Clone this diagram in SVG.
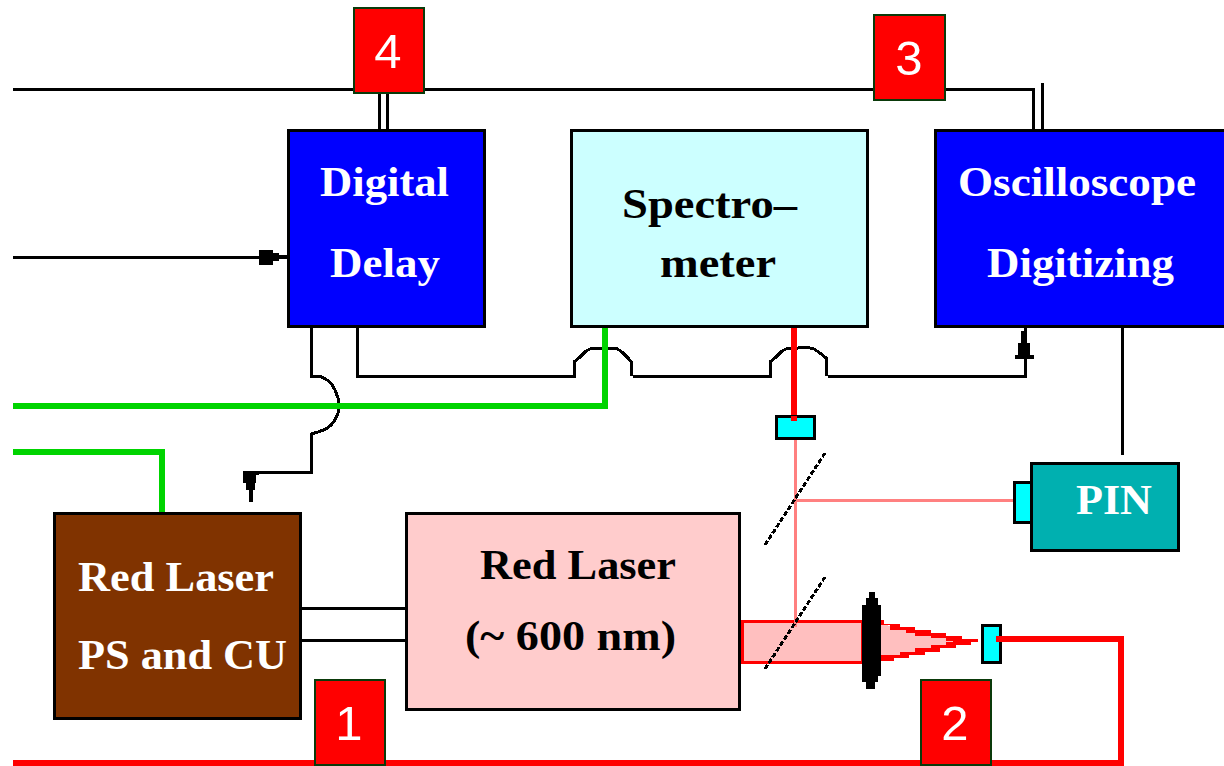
<svg xmlns="http://www.w3.org/2000/svg" width="1224" height="766" viewBox="0 0 1224 766">
<style>
.w{fill:none;stroke:#000;stroke-width:3;shape-rendering:crispEdges}
.red{fill:none;stroke:#f00;stroke-width:5.500;shape-rendering:crispEdges}
.green{fill:none;stroke:#00d400;stroke-width:6;shape-rendering:crispEdges}
.pink{fill:none;stroke:#ff8080;stroke-width:3;shape-rendering:crispEdges}
.box{stroke:#000;stroke-width:3;shape-rendering:crispEdges}
.c{shape-rendering:crispEdges}
.t{font-family:"Liberation Serif",serif;font-weight:bold;font-size:42px;text-anchor:start}
.n{font-family:"Liberation Sans",sans-serif;font-size:49px;fill:#fff;text-anchor:middle}
.tag{fill:#f00;stroke:#0a3a0a;stroke-width:2;shape-rendering:crispEdges}
</style>
<rect width="1224" height="766" fill="#fff"/>
<g id="connectors">
<path class="w" d="M13 89H1033V130M1042 83V130"/>
<path class="w" d="M379 89V130M387 89V130"/>
<path class="w" d="M13 257H288"/>
<path class="c" fill="#000" d="M259 250H273V253H279V255H288V259H279V261H273V265H259Z"/>
<path class="w" d="M311 326V376H320L327 380L331 383L335 390L338 398L339 405L338 413L335 420L331 425L326 429L318 432L311 434V472H250"/>
<path class="c" fill="#000" d="M243 471H259V475H256V483H255V490H253V502H249V490H246V483H243Z"/>
<path class="w" d="M357 326V376H574V362L580 357L586 351L592 348H616L622 352L628 358L631 362V376M633 376H770V362L776 357L782 351L788 348H798L806 347L814 349L820 353L826 358V376M828 376H1025V326"/>
<path class="c" fill="#000" d="M1021 331H1027V343H1030V355H1034V359H1015V355H1018V343H1021Z"/>
<path class="w" d="M1122 326V455"/>
<path class="w" d="M300 608H406M300 640H406"/>
<path class="green" d="M13 406H605V326"/>
<path class="green" d="M13 452H162V514"/>
<path class="red" d="M794 326V420"/>
<path class="pink" d="M795 438V622M795 500H1014"/>
<path class="red" d="M996 639H1121V763H13"/>
<path class="c" d="M742.500 621.500H862V662.500H742.500Z" fill="#ffbfbf" stroke="#f00" stroke-width="3"/>
<path class="pink" d="M795 620V627"/>
<path class="c" d="M881 624L962 641L962 644L881 658Z" fill="#ffbfbf"/>
<path class="c" fill="#f00" d="M881 620H884V624H900V627H915V630H931V633H946V636H962V639H978V642H971V645H956V648H940V652H925V655H909V658H894V661H881V655H900V652H915V648H931V645H946V642H953V641H946V638H931V636H915V633H906V630H890V625H881Z"/>
<path class="c" fill="none" stroke="#000" stroke-width="3" stroke-dasharray="5 2" d="M765 545L825 453M765 669L825 577"/>
</g>
<g id="lens"><path class="c" fill="#000" d="M869 592H875V598H878V605H881V676H878V682H875V689H866V682H862V605H866V598H869Z"/></g>
<g id="det-top"><rect class="c" x="776.500" y="416.500" width="38" height="22" fill="#0ff" stroke="#000" stroke-width="3"/><path class="red" d="M794 416V421"/></g>
<g id="det-right"><rect class="c" x="982.500" y="625.500" width="18" height="37" fill="#0ff" stroke="#000" stroke-width="3"/><path class="red" d="M996 639H1002"/></g>
<g id="digital-delay"><rect class="box" x="288.500" y="130.500" width="196" height="196" fill="#00f"/>
<text class="t" x="320" y="196" fill="#fff" textLength="129" lengthAdjust="spacingAndGlyphs">Digital</text><text class="t" x="330" y="277" fill="#fff" textLength="110" lengthAdjust="spacingAndGlyphs">Delay</text></g>
<g id="spectrometer"><rect class="box" x="571.500" y="130.500" width="296" height="196" fill="#ccffff"/>
<text class="t" x="622" y="218" fill="#000" textLength="175" lengthAdjust="spacingAndGlyphs">Spectro–</text><text class="t" x="660" y="277" fill="#000" textLength="116" lengthAdjust="spacingAndGlyphs">meter</text></g>
<g id="oscilloscope"><rect class="box" x="935.500" y="130.500" width="290" height="196" fill="#00f"/>
<text class="t" x="958" y="196" fill="#fff" textLength="238" lengthAdjust="spacingAndGlyphs">Oscilloscope</text><text class="t" x="987" y="277" fill="#fff" textLength="187" lengthAdjust="spacingAndGlyphs">Digitizing</text></g>
<g id="pin"><rect class="c" x="1014" y="482" width="19" height="40" fill="#0ff" stroke="#000" stroke-width="3"/><rect class="box" x="1031.500" y="463.500" width="147" height="87" fill="#00b0b0"/>
<text class="t" x="1076" y="514" fill="#fff" textLength="76" lengthAdjust="spacingAndGlyphs">PIN</text></g>
<g id="ps-cu"><rect class="box" x="54.500" y="513.500" width="246" height="205" fill="#803300"/>
<text class="t" x="78" y="591" fill="#fff" textLength="196" lengthAdjust="spacingAndGlyphs">Red Laser</text><text class="t" x="78" y="669" fill="#fff" textLength="209" lengthAdjust="spacingAndGlyphs">PS and CU</text></g>
<g id="red-laser"><rect class="box" x="406.500" y="513.500" width="333" height="196" fill="#ffcccc"/>
<text class="t" x="480" y="579" fill="#000" textLength="196" lengthAdjust="spacingAndGlyphs">Red Laser</text><text class="t" x="465" y="650" fill="#000" textLength="211" lengthAdjust="spacingAndGlyphs">(~ 600 nm)</text></g>
<g id="tag4"><rect class="tag" x="354" y="8" width="70" height="85"/><text class="n" x="388" y="68">4</text></g>
<g id="tag3"><rect class="tag" x="874" y="15" width="71" height="85"/><text class="n" x="909" y="75">3</text></g>
<g id="tag1"><rect class="tag" x="315" y="680" width="70" height="85"/><text class="n" x="349" y="740">1</text></g>
<g id="tag2"><rect class="tag" x="921" y="680" width="70" height="85"/><text class="n" x="955" y="740">2</text></g>
</svg>
